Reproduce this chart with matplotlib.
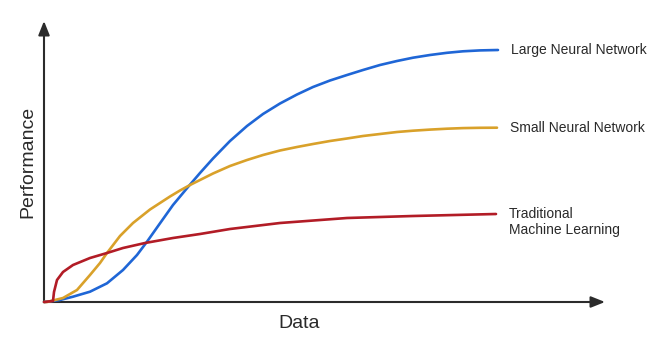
import matplotlib.pyplot as plt

plt.rcParams['font.family'] = ['Liberation Sans', 'DejaVu Sans']

# curves (x = amount of data, y = performance)
large_x = [0, 3, 16, 29, 46, 63, 79, 93, 103, 116, 129, 144, 156, 169, 186, 203, 219,
           236, 253, 269, 286, 303, 319, 336, 353, 369, 386, 403, 419, 436, 454]
large_y = [0, 0.3, 2, 5.3, 10.3, 18.7, 32, 47, 60.3, 78.7, 97, 115, 129, 143.5, 161, 176, 188,
           198.5, 207.5, 215, 221.5, 227, 232, 237, 241, 244.3, 247, 249.2, 250.7, 251.6, 252]

small_x = [0, 3, 19, 33, 46, 56, 63, 76, 89, 106, 126, 136, 146, 169, 186, 203, 219,
           236, 253, 269, 286, 303, 319, 336, 353, 369, 386, 403, 419, 436, 453]
small_y = [0, 0, 4, 12, 27, 39, 49, 66, 79, 92.5, 105.5, 111.5, 117, 128.5, 136, 142, 147,
           151.5, 155, 158, 161, 163.5, 166, 168, 170, 171.3, 172.4, 173.3, 173.9, 174.2, 174.3]

trad_x = [0, 9, 10, 13, 19, 29, 46, 63, 79, 101, 129, 156, 186, 236, 303, 369, 452]
trad_y = [0, 1, 10, 22, 30, 37, 44, 49, 54, 59, 64, 68, 73, 79, 84, 86, 88]

labels = ['Large Neural Network', 'Small Neural Network', 'Traditional\nMachine Learning']
colors = ['#1f66d6', '#d9a12a', '#b21c26']

fig = plt.figure(figsize=(6.55, 3.43), dpi=100)
ax = fig.add_axes([0, 0, 1, 1])
ax.set_xlim(-44, 611)
ax.set_ylim(-41, 302)
ax.axis('off')

# axes with arrow heads
arrow = dict(arrowstyle='-|>,head_length=0.7,head_width=0.28', color='#2b2b2b',
             lw=1.5, mutation_scale=12, shrinkA=0, shrinkB=0)
ax.annotate('', xy=(0, 281), xytext=(0, 0), arrowprops=arrow)
ax.annotate('', xy=(561, 0), xytext=(0, 0), arrowprops=arrow)

series = [(large_x, large_y), (small_x, small_y), (trad_x, trad_y)]
for (xs, ys), lab, c in zip(series, labels, colors):
    ax.plot(xs, ys, color=c, lw=1.9, solid_capstyle='round', solid_joinstyle='round', zorder=3)
    ax.text(xs[-1] + 13, ys[-1] - (8 if '\n' in lab else 0), lab, fontsize=10,
            color='#2a2a2a', va='center', ha='left', linespacing=1.15)

ax.text(-16, 140, 'Performance', fontsize=14, rotation=90, color='#2a2a2a',
        ha='center', va='center')
ax.text(255, -21, 'Data', fontsize=14, color='#2a2a2a', ha='center', va='center')

fig.savefig('out.png', dpi=100)
